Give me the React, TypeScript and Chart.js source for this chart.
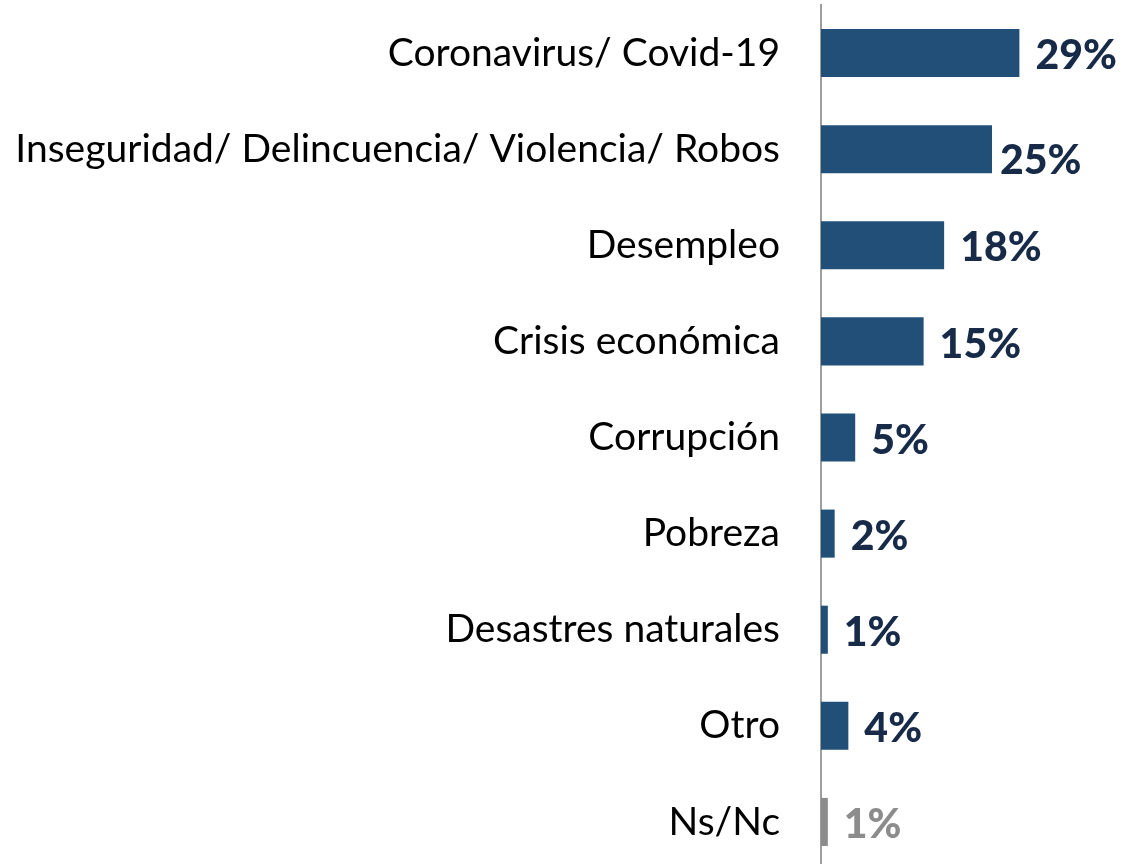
import React, { useEffect, useRef } from "react";
import { Chart, registerables } from "chart.js";

Chart.register(...registerables);

const categories = [
  "Coronavirus/ Covid-19",
  "Inseguridad/ Delincuencia/ Violencia/ Robos",
  "Desempleo",
  "Crisis económica",
  "Corrupción",
  "Pobreza",
  "Desastres naturales",
  "Otro",
  "Ns/Nc",
];
const values = [29, 25, 18, 15, 5, 2, 1, 4, 1];
const valueLabels = ["29%", "25%", "18%", "15%", "5%", "2%", "1%", "4%", "1%"];

const BAR = "#214F78";
const GRAY = "#8C8C8C";
const LABEL_NAVY = "#172B49";
const barColors = categories.map((c) => (c === "Ns/Nc" ? GRAY : BAR));
const labelColors = categories.map((c) => (c === "Ns/Nc" ? GRAY : LABEL_NAVY));

const valueLabelPlugin = {
  id: "valueLabels",
  afterDatasetsDraw(chart: any) {
    const ctx = chart.ctx;
    const meta = chart.getDatasetMeta(0);
    const offs = chart.options.plugins.valueLabels.offsets || {};
    ctx.save();
    ctx.font = "900 41px Lato";
    ctx.textAlign = "left";
    ctx.textBaseline = "middle";
    meta.data.forEach((bar: any, i: number) => {
      const o = offs[i] || [0, 0];
      ctx.fillStyle = labelColors[i];
      ctx.fillText(valueLabels[i], bar.x + 16 + o[0], bar.y + 3 + o[1]);
    });
    ctx.restore();
  },
};

export default function App() {
  const ref = useRef<HTMLCanvasElement>(null);
  useEffect(() => {
    if (!ref.current) return;
    const chart = new Chart(ref.current, {
      type: "bar",
      data: {
        labels: categories,
        datasets: [
          {
            data: values,
            backgroundColor: barColors,
            barPercentage: 0.5,
            categoryPercentage: 1,
          },
        ],
      },
      options: {
        indexAxis: "y",
        animation: false,
        responsive: false,
        maintainAspectRatio: false,
        layout: { padding: { top: 5, bottom: 0, left: 0, right: 2 } },
        plugins: {
          legend: { display: false },
          tooltip: { enabled: false },
          valueLabels: { offsets: { 1: [-8, 9] } },
        } as any,
        scales: {
          x: {
            display: false,
            min: 0,
            max: 44,
          },
          y: {
            grid: { display: false },
            border: { display: true, color: "#9E9E9E", width: 2 },
            ticks: {
              color: "#000000",
              padding: 33,
              font: { family: "Lato", size: 39 },
            },
            afterFit: (scale: any) => {
              scale.width = 821;
              scale.paddingTop = 0;
              scale.paddingBottom = 0;
            },
          },
        },
      },
      plugins: [valueLabelPlugin],
    });
    return () => chart.destroy();
  }, []);
  return (
    <div style={{ position: "fixed", left: 0, top: 0, width: 1124, height: 870, background: "#fff" }}>
      <canvas ref={ref} width={1124} height={870} />
    </div>
  );
}
